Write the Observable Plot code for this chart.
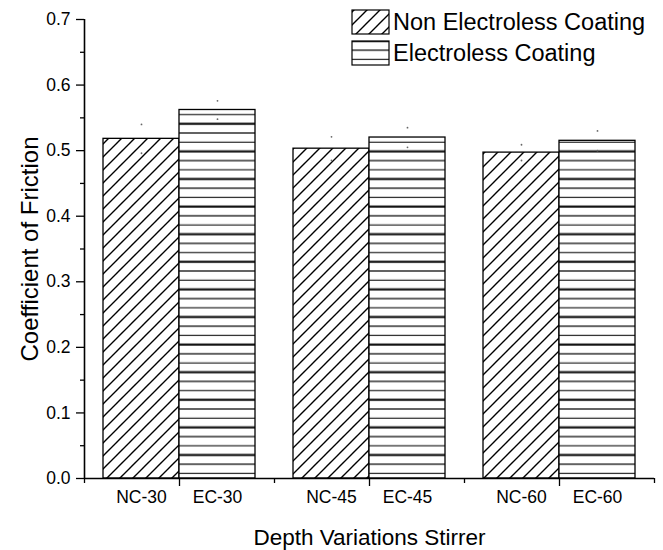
<!DOCTYPE html>
<html>
<head>
<meta charset="utf-8">
<script src="https://cdn.jsdelivr.net/npm/d3@7"></script>
<script src="https://cdn.jsdelivr.net/npm/@observablehq/plot@0.6"></script>
<style>
  html, body { margin: 0; padding: 0; background: #fff; }
  #chart { width: 663px; height: 550px; }
</style>
</head>
<body>
<div id="chart"></div>
<script>
// ---- data ----
const groups = [1, 2, 3];
const ncLabels = ["NC-30", "NC-45", "NC-60"];
const ecLabels = ["EC-30", "EC-45", "EC-60"];
const ncValues = [0.518, 0.503, 0.497];
const ncErrors = [0.022, 0.018, 0.012];
const ecValues = [0.562, 0.520, 0.515];
const ecErrors = [0.014, 0.015, 0.015];
const seriesNames = ["Non Electroless Coating", "Electroless Coating"];
const yTicks = [0, 0.1, 0.2, 0.3, 0.4, 0.5, 0.6, 0.7];
const yMinorTicks = [0.05, 0.15, 0.25, 0.35, 0.45, 0.55, 0.65];
const xMajorTicks = [1, 2, 3];
const xMinorTicks = [0.5, 1.5, 2.5, 3.5];
const xTitle = "Depth Variations Stirrer";
const yTitle = "Coefficient of Friction";

const W = 0.4;
const nc = groups.map((g, i) => ({x1: g - W, x2: g, y: ncValues[i], err: ncErrors[i], label: ncLabels[i], c: g - W / 2}));
const ec = groups.map((g, i) => ({x1: g, x2: g + W, y: ecValues[i], err: ecErrors[i], label: ecLabels[i], c: g + W / 2}));
const all = nc.concat(ec);
const labelMap = new Map(all.map(d => [d.c, d.label]));
const errPts = all.flatMap(d => [{x: d.c, y: d.y + d.err}, {x: d.c, y: d.y - d.err}]);

const svg = Plot.plot({
  width: 663,
  height: 550,
  marginLeft: 84,
  marginRight: 9,
  marginTop: 19,
  marginBottom: 72,
  style: {fontFamily: "'Liberation Sans', Arial, sans-serif", fontSize: "17px", color: "black", background: "white"},
  x: {type: "linear", domain: [0.5, 3.5], axis: null},
  y: {domain: [0, 0.7], axis: null},
  marks: [
    Plot.rectY(nc, {x1: "x1", x2: "x2", y: "y", fill: "url(#hatchNC)", stroke: "black", strokeWidth: 1.3}),
    Plot.rectY(ec, {x1: "x1", x2: "x2", y: "y", fill: "url(#hatchEC)", stroke: "black", strokeWidth: 1.3}),
    Plot.dot(errPts, {x: "x", y: "y", r: 0.9, fill: "#666", stroke: null}),
    // y axis
    Plot.axisY({ticks: yTicks, tickSize: 8, tickPadding: 6, tickFormat: d3.format(".1f"), label: null, fontSize: 17.5, strokeWidth: 1.3}),
    Plot.axisY({ticks: yMinorTicks, tickSize: 4, tickFormat: () => "", label: null, strokeWidth: 1.3}),
    // x axis
    Plot.axisX({ticks: xMajorTicks, tickSize: 8, tickFormat: () => "", label: null, strokeWidth: 1.3}),
    Plot.axisX({ticks: xMinorTicks, tickSize: 5, tickFormat: () => "", label: null, strokeWidth: 1.3}),
    Plot.axisX({ticks: all.map(d => d.c), tickSize: 0, tickPadding: 12, tickFormat: d => labelMap.get(d), label: null, fontSize: 17.5}),
    Plot.ruleX([0.5], {y1: 0, y2: 0.7, stroke: "black", strokeWidth: 1.6}),
    Plot.ruleY([0], {x1: 0.5, x2: 3.5, stroke: "black", strokeWidth: 1.6}),
    Plot.text([yTitle], {frameAnchor: "left", textAnchor: "middle", lineAnchor: "middle", rotate: -90, dx: -54, fontSize: 24, fill: "black"}),
    Plot.text([xTitle], {frameAnchor: "bottom", textAnchor: "middle", lineAnchor: "middle", dy: 59, fontSize: 22.5, fill: "black"})
  ]
});

// pattern definitions
const defs = d3.select(svg).insert("defs", ":first-child");
const p1 = defs.append("pattern").attr("id", "hatchNC").attr("patternUnits", "userSpaceOnUse")
  .attr("width", 13).attr("height", 13);
p1.append("rect").attr("width", 13).attr("height", 13).attr("fill", "white");
p1.append("path").attr("d", "M-2,15 L15,-2 M-4,4 L4,-4 M9,17 L17,9")
  .attr("stroke", "black").attr("stroke-width", 1.4).attr("fill", "none");
const p2 = defs.append("pattern").attr("id", "hatchEC").attr("patternUnits", "userSpaceOnUse")
  .attr("width", 20).attr("height", 27.6).attr("y", 478);
p2.append("rect").attr("width", 20).attr("height", 27.6).attr("fill", "white");
[[0, 2.2], [9.2, 1.3], [18.4, 1.1]].forEach(([yy, sw]) => {
  p2.append("line").attr("x1", 0).attr("x2", 20).attr("y1", yy + 4.6).attr("y2", yy + 4.6)
    .attr("stroke", "#111").attr("stroke-width", sw);
});

// legend (inside plot area, top right)
const lg = d3.select(svg).append("g").attr("font-size", 23.5).attr("fill", "black").attr("text-anchor", "start");
seriesNames.forEach((name, i) => {
  const y0 = 10 + i * 31;
  lg.append("rect").attr("x", 352).attr("y", y0).attr("width", 37).attr("height", 24)
    .attr("fill", i === 0 ? "url(#hatchNC)" : "url(#hatchEC)").attr("stroke", "black").attr("stroke-width", 1.2);
  lg.append("text").attr("x", 393).attr("y", y0 + 12).attr("dy", "0.35em").text(name);
});

document.getElementById("chart").appendChild(svg);
</script>
</body>
</html>
